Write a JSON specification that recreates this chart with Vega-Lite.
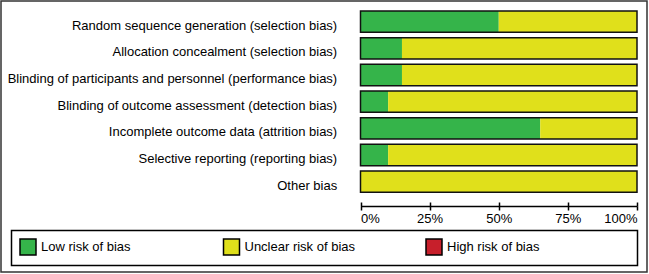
{
  "$schema": "https://vega.github.io/schema/vega-lite/v6.json",
  "width": 646,
  "height": 271,
  "autosize": "none",
  "padding": {"left": 1, "top": 1, "right": 2, "bottom": 2},
  "background": "white",
  "config": {
    "view": {"stroke": "#333", "strokeWidth": 1.5},
    "font": "Liberation Sans",
    "axis": {"labelFont": "Liberation Sans", "labelFontSize": 13, "labelColor": "#000", "grid": false, "title": null},
    "legend": {"strokeColor": "#000", "strokeWidth": 1.5}
  },
  "data": {
    "values": [
      {"domain": "Random sequence generation (selection bias)", "judgement": "Low risk of bias", "level": 1, "percent": 50},
      {"domain": "Random sequence generation (selection bias)", "judgement": "Unclear risk of bias", "level": 2, "percent": 50},
      {"domain": "Allocation concealment (selection bias)", "judgement": "Low risk of bias", "level": 1, "percent": 15},
      {"domain": "Allocation concealment (selection bias)", "judgement": "Unclear risk of bias", "level": 2, "percent": 85},
      {"domain": "Blinding of participants and personnel (performance bias)", "judgement": "Low risk of bias", "level": 1, "percent": 15},
      {"domain": "Blinding of participants and personnel (performance bias)", "judgement": "Unclear risk of bias", "level": 2, "percent": 85},
      {"domain": "Blinding of outcome assessment (detection bias)", "judgement": "Low risk of bias", "level": 1, "percent": 10},
      {"domain": "Blinding of outcome assessment (detection bias)", "judgement": "Unclear risk of bias", "level": 2, "percent": 90},
      {"domain": "Incomplete outcome data (attrition bias)", "judgement": "Low risk of bias", "level": 1, "percent": 65},
      {"domain": "Incomplete outcome data (attrition bias)", "judgement": "Unclear risk of bias", "level": 2, "percent": 35},
      {"domain": "Selective reporting (reporting bias)", "judgement": "Low risk of bias", "level": 1, "percent": 10},
      {"domain": "Selective reporting (reporting bias)", "judgement": "Unclear risk of bias", "level": 2, "percent": 90},
      {"domain": "Other bias", "judgement": "Low risk of bias", "level": 1, "percent": 0},
      {"domain": "Other bias", "judgement": "Unclear risk of bias", "level": 2, "percent": 100}
    ]
  },
  "encoding": {
    "y": {
      "field": "domain",
      "type": "nominal",
      "sort": null,
      "scale": {"range": [7.33, 194], "paddingInner": 0.2, "paddingOuter": 0.1},
      "axis": {
        "orient": "left",
        "offset": -335.7,
        "domain": false,
        "ticks": false,
        "labelPadding": 0,
        "labelOffset": 4,
        "labelLimit": 500,
        "labelFontSize": 13,
        "title": null
      }
    }
  },
  "layer": [
    {
      "mark": {"type": "bar", "strokeWidth": 0},
      "encoding": {
        "x": {
          "field": "percent",
          "type": "quantitative",
          "stack": "zero",
          "scale": {"domain": [0, 100], "range": [359.5, 636], "nice": false},
          "axis": {
            "orient": "bottom",
            "offset": -66,
            "values": [0, 25, 50, 75, 100],
            "labelExpr": "datum.value + '%'",
            "labelFlush": true,
            "labelPadding": 2,
            "domain": true,
            "domainColor": "#000",
            "domainWidth": 1.5,
            "ticks": true,
            "tickSize": 4,
            "tickColor": "#000",
            "tickWidth": 1.5,
            "title": null
          }
        },
        "color": {
          "field": "judgement",
          "type": "nominal",
          "scale": {
            "domain": ["Low risk of bias", "Unclear risk of bias", "High risk of bias"],
            "range": ["#35b44a", "#e0e01b", "#c71f2b"]
          },
          "legend": {
            "orient": "none",
            "legendX": 10.5,
            "legendY": 229.5,
            "direction": "horizontal",
            "columns": 3,
            "gridAlign": "each",
            "columnPadding": 67.5,
            "symbolType": "square",
            "symbolSize": 256,
            "symbolStrokeColor": "#000",
            "symbolStrokeWidth": 1.5,
            "symbolOpacity": 1,
            "labelFont": "Liberation Sans",
            "labelFontSize": 13,
            "labelColor": "#000",
            "labelOffset": 4,
            "labelLimit": 400,
            "labelExpr": "datum.label == 'Low risk of bias' ? 'Low risk of bias\u00a0\u00a0\u00a0\u00a0\u00a0\u00a0\u200b' : datum.label == 'High risk of bias' ? 'High risk of bias\u00a0\u00a0\u00a0\u00a0\u00a0\u00a0\u00a0\u00a0\u00a0\u00a0\u00a0\u00a0\u00a0\u00a0\u00a0\u00a0\u00a0\u00a0\u00a0\u00a0\u00a0\u00a0\u00a0\u00a0\u00a0\u200b' : datum.label",
            "padding": 7.5,
            "strokeColor": "#000",
            "title": null
          }
        },
        "order": {"field": "level", "type": "quantitative"}
      }
    },
    {
      "transform": [
        {"aggregate": [{"op": "sum", "field": "percent", "as": "total"}], "groupby": ["domain"]}
      ],
      "mark": {"type": "bar", "fill": "transparent", "stroke": "#111", "strokeWidth": 1.5},
      "encoding": {
        "x": {
          "field": "total",
          "type": "quantitative",
          "axis": {
            "orient": "top",
            "offset": -205,
            "values": [0, 25, 50, 75, 100],
            "labels": false,
            "domain": false,
            "ticks": true,
            "tickSize": 4,
            "tickColor": "#000",
            "tickWidth": 1.5,
            "title": null
          }
        }
      }
    }
  ],
  "resolve": {"axis": {"x": "independent"}}
}
